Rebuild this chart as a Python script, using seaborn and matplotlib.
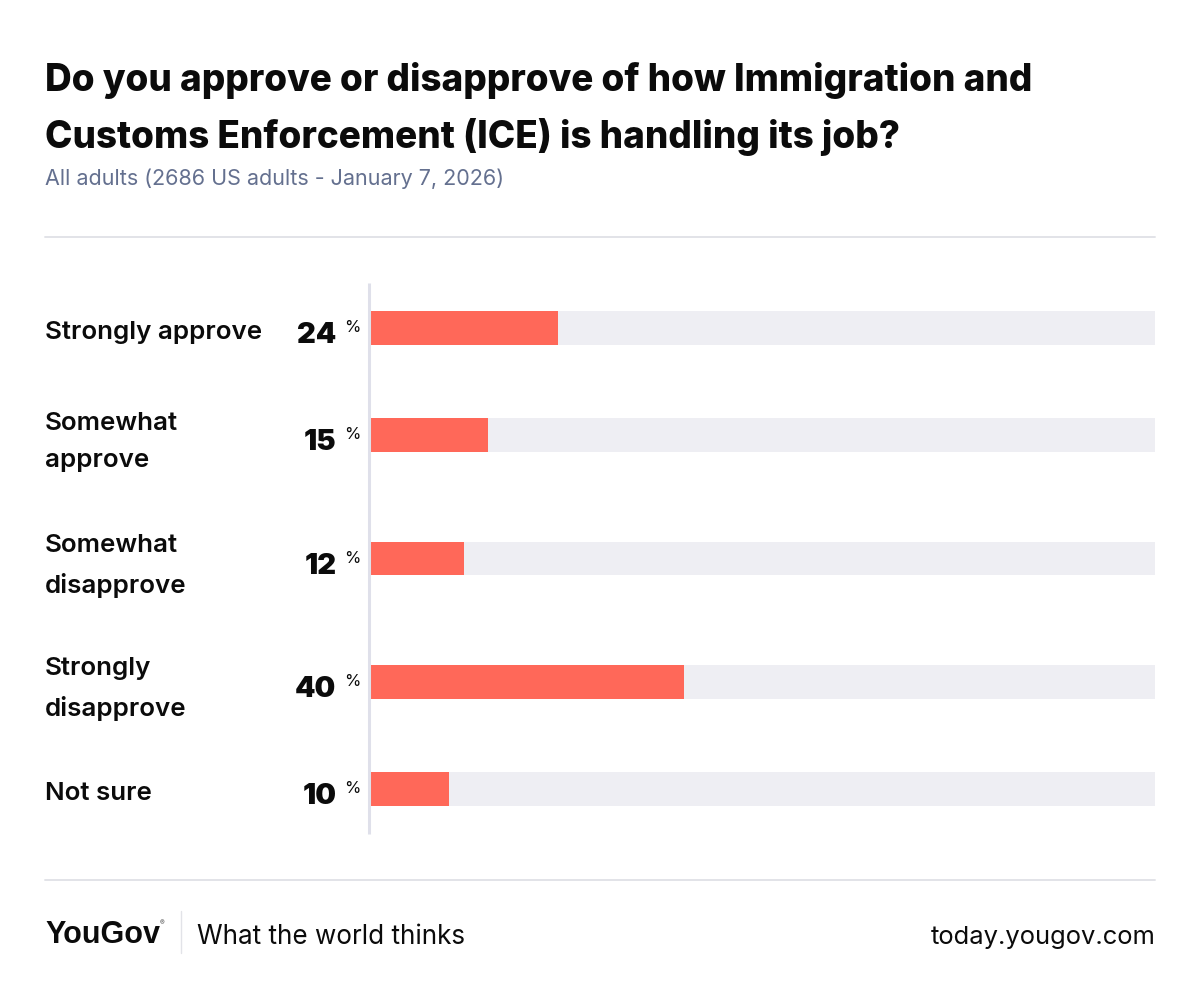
import numpy as np
import pandas as pd
import seaborn as sns
import matplotlib.pyplot as plt
from matplotlib.transforms import ScaledTranslation

categories = ['Strongly approve', 'Somewhat\napprove', 'Somewhat\ndisapprove', 'Strongly\ndisapprove', 'Not sure']
values = [24, 15, 12, 40, 10]
full_scale = [100, 100, 100, 100, 100]

title = 'Do you approve or disapprove of how Immigration and\nCustoms Enforcement (ICE) is handling its job?'
subtitle = 'All adults (2686 US adults - January 7, 2026)'

W, H = 1200, 999
CORAL = '#ff6859'
TRACK = '#eeeef3'
RULE = '#e2e3e8'

sns.set_theme(style='white')
plt.rcParams['font.family'] = ['Inter', 'DejaVu Sans']

fig = plt.figure(figsize=(W / 100, H / 100), dpi=100, facecolor='white')


def px(x, y):
    # pixel position measured from the top left of the picture
    return x / W, 1 - y / H


# the plot area runs 283..834 down the picture and 370..1155 across
left, top = px(370, 283)
right, bottom = px(1155, 834)
ax = fig.add_axes([left, bottom, right - left, top - bottom])

# rows with a two line label take more room
row_h = [123.5 if '\n' in c else 90.5 for c in categories]
centers = np.cumsum(row_h) - np.array(row_h) / 2
df = pd.DataFrame({'pos': centers, 'category': categories, 'value': values, 'full': full_scale})

bar_w = 34 / np.diff(centers).min()
sns.barplot(data=df, x='full', y='pos', orient='y', native_scale=True, color=TRACK,
            width=bar_w, saturation=1, linewidth=0, ax=ax)
sns.barplot(data=df, x='value', y='pos', orient='y', native_scale=True, color=CORAL,
            width=bar_w, saturation=1, linewidth=0, ax=ax)

# spine changes reset the ticks, so they come before the labels
sns.despine(ax=ax, top=True, right=True, bottom=True)
ax.spines['left'].set_color('#dfe0ea')
ax.spines['left'].set_linewidth(2.2)
ax.spines['left'].set_capstyle('butt')
ax.spines['left'].set_position(('outward', 1))

ax.set_xlim(0, 100)
ax.set_ylim(sum(row_h), 0)
ax.set_xlabel('')
ax.set_ylabel('')
ax.set_xticks([])
ax.tick_params(axis='y', length=0, pad=(370 - 46) * 0.72)
ax.set_yticks(centers)
ax.set_yticklabels(categories, ha='left', fontsize=18.7, fontweight='semibold', color='#0b0b0b', linespacing=1.8)
for lbl, c in zip(ax.get_yticklabels(), categories):
    # one line labels sit 2px below the bar centre, two line labels 3px above it
    shift = 3 if '\n' in c else -2
    lbl.set_transform(lbl.get_transform() + ScaledTranslation(0, shift / 100, fig.dpi_scale_trans))

for c, v in zip(centers, values):
    y_px = 283 + c
    fig.text(*px(336.5, y_px + 15), str(v), ha='right', va='baseline', fontsize=21,
             fontweight='black', color='#0b0b0b')
    fig.text(*px(344.5, y_px + 4), '%', ha='left', va='baseline', fontsize=12, color='#0b0b0b')

fig.text(*px(45, 148), title, ha='left', va='baseline', fontsize=26.55, fontweight='heavy',
         color='#0b0b0b', linespacing=1.62)
fig.text(*px(45, 185), subtitle, ha='left', va='baseline', fontsize=15.5, color='#64708f')

for y in (237, 880):
    fig.add_artist(plt.Line2D([45 / W, 1155 / W], [1 - y / H] * 2, color=RULE, lw=1.4))
fig.add_artist(plt.Line2D([181 / W] * 2, [1 - 911 / H, 1 - 953 / H], color=RULE, lw=1))

fig.text(*px(45, 943), 'YouGov', ha='left', va='baseline', fontsize=22, fontweight='bold',
         family=['Liberation Sans', 'DejaVu Sans'], color='#0b0b0b')
fig.text(*px(160, 925), '®', ha='left', va='baseline', fontsize=5, color='#555555')
fig.text(*px(197, 944), 'What the world thinks', ha='left', va='baseline', fontsize=18.75, color='#0b0b0b')
fig.text(*px(1156, 944), 'today.yougov.com', ha='right', va='baseline', fontsize=18.4, color='#0b0b0b')

fig.savefig('out.png', dpi=100, facecolor='white')
